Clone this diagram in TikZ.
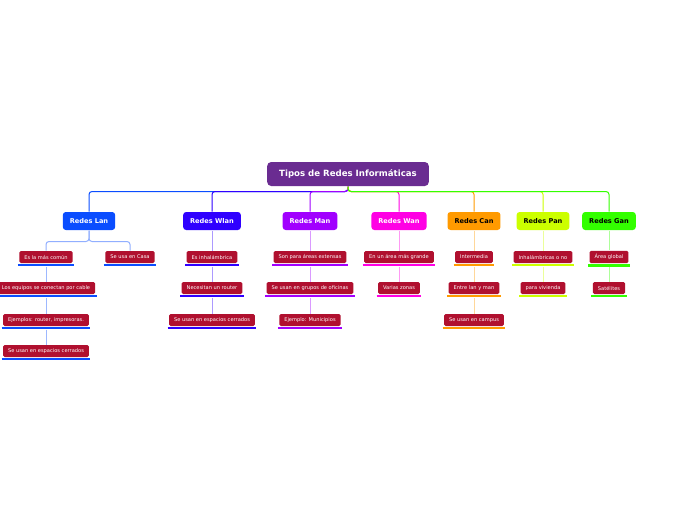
\documentclass[tikz,border=0pt]{standalone}
\usepackage{fontspec}
\setmainfont{DejaVu Sans}
\usetikzlibrary{calc}
\definecolor{rootc}{HTML}{6A2C91}
\definecolor{lanc}{HTML}{0A4DFF}
\definecolor{wlanc}{HTML}{2F00FF}
\definecolor{manc}{HTML}{A100FF}
\definecolor{wanc}{HTML}{FF00E4}
\definecolor{canc}{HTML}{FF9A00}
\definecolor{panc}{HTML}{CCFF00}
\definecolor{ganc}{HTML}{33FF00}
\definecolor{leafc}{HTML}{B0102F}
\tikzset{
  topic/.style={fill=#1, rounded corners=3pt, minimum height=18pt, inner xsep=7pt,
    font=\fontsize{6.6}{7}\selectfont\bfseries},
  leaf/.style={fill=leafc, text=white, rounded corners=1.5pt, minimum height=12pt,
    inner xsep=5pt, font=\fontsize{5.1}{6}\selectfont},
}

\begin{document}
\begin{tikzpicture}[x=1pt,y=-1pt,line width=1pt]
  \fill[white] (0,0) rectangle (697,520);
  \useasboundingbox (0,0) rectangle (697,520);
  % root
  \node[fill=rootc, text=white, rounded corners=4pt, minimum height=24pt, inner xsep=12pt,
    font=\fontsize{8.6}{10}\selectfont\bfseries] (root) at (348,174) {Tipos de Redes Informáticas};
  % topics
  \foreach \n/\x/\c/\tc/\t in {lan/89/lanc/white/Redes Lan, wlan/212/wlanc/white/Redes Wlan,
      man/310/manc/white/Redes Man, wan/399/wanc/white/Redes Wan, can/474/canc/black/Redes Can,
      pan/543/panc/black/Redes Pan, gan/609/ganc/black/Redes Gan}
    {\node[topic=\c, text=\tc] (\n) at (\x,221) {\t};}
  \foreach \n/\c in {lan/lanc, wlan/wlanc, man/manc, wan/wanc, can/canc, pan/panc, gan/ganc}
    \draw[\c, rounded corners=3pt] (root.south) -- ++(0,5) -| (\n.north);
  % leaves
  \foreach \n/\x/\y/\c/\t in {
      lanA/46/257/lanc/Es la más común, lanB/130/257/lanc/Se usa en Casa,
      lanC/46/288/lanc/Los equipos se conectan por cable,
      lanD/46/320/lanc/{Ejemplos: router, impresoras.},
      lanE/46/351/lanc/Se usan en espacios cerrados,
      wlanA/212/257/wlanc/Es inhalámbrica, wlanB/212/288/wlanc/Necesitan un router,
      wlanC/212/320/wlanc/Se usan en espacios cerrados,
      manA/310/257/manc/Son para áreas extensas, manB/310/288/manc/Se usan en grupos de oficinas,
      manC/310/320/manc/Ejemplo: Municipios,
      wanA/399/257/wanc/En un área más grande, wanB/399/288/wanc/Varias zonas,
      canA/474/257/canc/Intermedia, canB/474/288/canc/Entre lan y man,
      canC/474/320/canc/Se usan en campus,
      panA/543/257/panc/Inhalámbricas o no, panB/543/288/panc/para vivienda,
      ganA/609/257/ganc/Área global, ganB/609/288/ganc/Satélites}
    {\node[leaf] (\n) at (\x,\y) {\t};
     \draw[\c, line width=2.5pt] ([shift={(-1,1.6)}]\n.south west) -- ([shift={(1,1.6)}]\n.south east);}
  % connectors
  \foreach \n in {lanA, lanB}
    \draw[lanc!45, rounded corners=3pt] (lan.south) -- ++(0,11) -| (\n.north);
  \foreach \a/\b/\c in {wlan/wlanA/wlanc, man/manA/manc, wan/wanA/wanc, can/canA/canc,
      pan/panA/panc, gan/ganA/ganc}
    \draw[\c!40] (\a.south) -- (\b.north);
  \foreach \a/\b/\c in {lanA/lanC/lanc, lanC/lanD/lanc, lanD/lanE/lanc,
      wlanA/wlanB/wlanc, wlanB/wlanC/wlanc, manA/manB/manc, manB/manC/manc,
      wanA/wanB/wanc, canA/canB/canc, canB/canC/canc, panA/panB/panc, ganA/ganB/ganc}
    \draw[\c!40] ([yshift=-3pt]\a.south) -- (\b.north);
\end{tikzpicture}
\end{document}
